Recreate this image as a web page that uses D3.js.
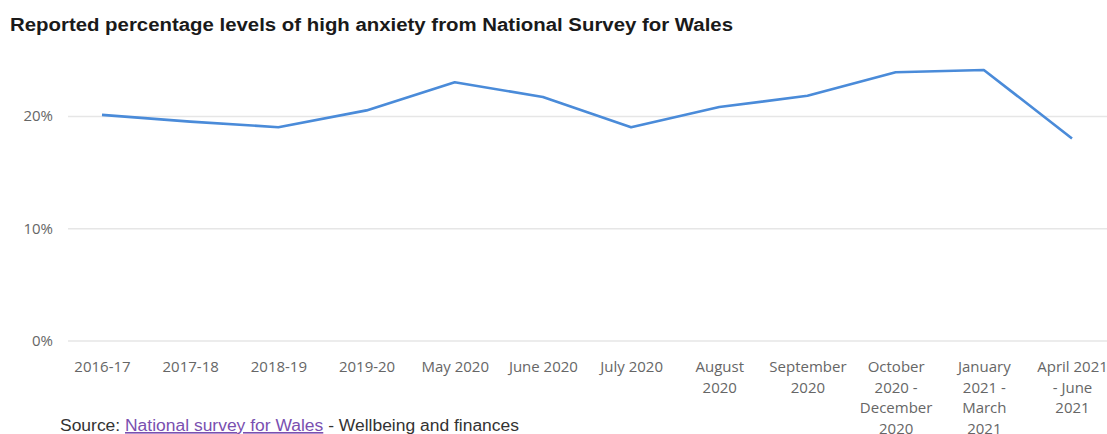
<!DOCTYPE html>
<html><head><meta charset="utf-8">
<script src="https://cdn.jsdelivr.net/npm/d3@7"></script>
<style>
html,body{margin:0;padding:0;background:#fff;}
svg{display:block;}
</style></head>
<body>
<svg id="chart" width="1107" height="434"></svg>
<script>
const categories = [
  ["2016-17"], ["2017-18"], ["2018-19"], ["2019-20"], ["May 2020"], ["June 2020"],
  ["July 2020"], ["August", "2020"], ["September", "2020"],
  ["October", "2020 -", "December", "2020"], ["January", "2021 -", "March", "2021"],
  ["April 2021", "- June", "2021"]
];
const values = [20.1, 19.5, 19.0, 20.5, 23.0, 21.7, 19.0, 20.8, 21.8, 23.9, 24.1, 18.0];
const yTicks = [0, 10, 20];
const titleText = "Reported percentage levels of high anxiety from National Survey for Wales";

const svg = d3.select("#chart");
const keys = categories.map((c, i) => i);
const x = d3.scalePoint().domain(keys).range([102, 1072]);
const y = d3.scaleLinear().domain([0, 20]).range([340.5, 116]);

// title
const title = svg.append("text")
  .attr("x", 10).attr("y", 31)
  .attr("font-family", "Liberation Sans, Arial, sans-serif")
  .attr("font-weight", "bold").attr("font-size", 18)
  .attr("fill", "#1a1a1a")
  .text(titleText);
title.attr("textLength", 723).attr("lengthAdjust", "spacingAndGlyphs");

// gridlines + y labels
const yAxis = d3.axisLeft(y).tickValues(yTicks).tickFormat(d => d + "%").tickSize(0).tickPadding(15);
const gy = svg.append("g").attr("transform", "translate(68,0)").call(yAxis);
gy.select(".domain").remove();
gy.selectAll("text")
  .attr("font-family", "Open Sans, sans-serif").attr("font-size", 15)
  .attr("fill", "#666");
gy.selectAll(".tick").append("line")
  .attr("x1", 0).attr("x2", 1107 - 68)
  .attr("stroke", "#e6e6e6").attr("stroke-width", 1.5);

// x axis labels
const xAxis = d3.axisBottom(x).tickSize(0).tickFormat(() => "");
const gx = svg.append("g").attr("transform", "translate(0,341)").call(xAxis);
gx.select(".domain").remove();
gx.selectAll(".tick text").remove();
gx.selectAll(".tick").each(function(d) {
  const t = d3.select(this).append("text")
    .attr("text-anchor", "middle")
    .attr("font-family", "Open Sans, sans-serif").attr("font-size", 15)
    .attr("fill", "#666");
  categories[d].forEach((line, j) => {
    t.append("tspan").attr("x", 0).attr("y", 31 + j * 20.5).text(line);
  });
});

// line
const line = d3.line().x((d, i) => x(i)).y(d => y(d));
svg.append("path").datum(values)
  .attr("d", line)
  .attr("fill", "none")
  .attr("stroke", "#4a8bd9")
  .attr("stroke-width", 2.6)
  .attr("stroke-linejoin", "round");

// source
const src = svg.append("text")
  .attr("x", 60).attr("y", 431)
  .attr("font-family", "Liberation Sans, Arial, sans-serif").attr("font-size", 16)
  .attr("fill", "#333")
  .attr("textLength", 459).attr("lengthAdjust", "spacingAndGlyphs");
src.append("tspan").text("Source: ");
src.append("tspan").attr("fill", "#7a4fb0").attr("text-decoration", "underline").text("National survey for Wales");
src.append("tspan").text(" - Wellbeing and finances");
</script>
</body></html>
